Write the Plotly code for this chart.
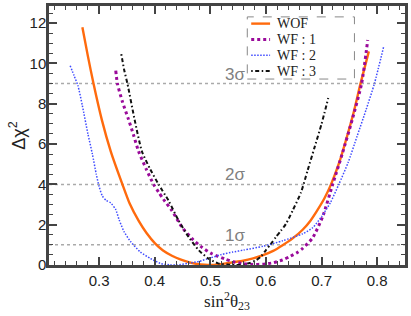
import plotly.graph_objects as go

# ---- data ----
wof_x = [0.270, 0.280, 0.290, 0.305, 0.321, 0.342, 0.355, 0.371, 0.385, 0.401, 0.415, 0.431, 0.446,
         0.461, 0.476, 0.490, 0.500, 0.512, 0.525, 0.540, 0.559, 0.577, 0.595, 0.613, 0.630, 0.648,
         0.666, 0.680, 0.692, 0.705, 0.717, 0.732, 0.745, 0.758, 0.770, 0.785]
wof_y = [11.8, 10.35, 9.0, 7.2, 5.64, 4.0, 3.05, 2.2, 1.6, 1.06, 0.72, 0.46, 0.28,
         0.14, 0.05, 0.01, 0.0, 0.02, 0.07, 0.13, 0.21, 0.33, 0.49, 0.7, 0.98, 1.32,
         1.75, 2.2, 2.7, 3.3, 4.0, 5.1, 6.3, 7.6, 9.0, 10.6]

wf1_x = [0.330, 0.333, 0.342, 0.352, 0.362, 0.371, 0.385, 0.398, 0.407, 0.416, 0.431, 0.449, 0.467,
         0.484, 0.502, 0.526, 0.541, 0.559, 0.577, 0.595, 0.613, 0.630, 0.642, 0.655, 0.666, 0.684,
         0.702, 0.720, 0.737, 0.755, 0.772, 0.783]
wf1_y = [9.64, 9.0, 8.1, 7.3, 6.45, 5.64, 4.75, 4.0, 3.62, 3.25, 2.7, 1.88, 1.31,
         0.9, 0.57, 0.3, 0.16, 0.07, 0.03, 0.04, 0.11, 0.25, 0.41, 0.6, 0.82, 1.35,
         2.4, 4.0, 5.5, 7.2, 9.0, 11.16]

wf2_x = [0.248, 0.255, 0.262, 0.270, 0.280, 0.288, 0.295, 0.300, 0.306, 0.313, 0.321, 0.330, 0.336,
         0.345, 0.357, 0.374, 0.392, 0.410, 0.428, 0.440, 0.460, 0.480, 0.500, 0.520, 0.540, 0.560,
         0.595, 0.630, 0.666, 0.684, 0.700, 0.716, 0.731, 0.748, 0.764, 0.780, 0.795, 0.812]
wf2_y = [9.89, 9.4, 8.9, 7.9, 6.5, 5.5, 4.5, 3.9, 3.42, 3.2, 3.08, 2.75, 2.25,
         1.65, 1.15, 0.65, 0.33, 0.08, 0.01, 0.0, 0.08, 0.18, 0.35, 0.52, 0.64, 0.74,
         0.93, 1.2, 1.55, 1.85, 2.4, 3.1, 4.0, 5.1, 6.4, 7.7, 9.0, 10.87]

wf3_x = [0.340, 0.345, 0.351, 0.364, 0.377, 0.392, 0.407, 0.425, 0.443, 0.461, 0.479, 0.496, 0.514,
         0.530, 0.545, 0.559, 0.571, 0.583, 0.592, 0.600, 0.609, 0.618, 0.627, 0.636, 0.648, 0.663,
         0.675, 0.687, 0.700, 0.712]
wf3_y = [10.46, 9.7, 9.0, 7.2, 5.64, 4.75, 4.0, 3.19, 2.2, 1.39, 0.74, 0.33, 0.08,
         0.02, 0.0, 0.03, 0.1, 0.25, 0.45, 0.74, 1.05, 1.39, 1.7, 2.04, 2.7, 3.6,
         4.7, 5.8, 7.0, 8.28]

series_names = ["WOF", "WF : 1", "WF : 2", "WF : 3"]
sigma_levels = [1, 4, 9]
sigma_labels = ["1σ", "2σ", "3σ"]
x_ticks = [0.3, 0.4, 0.5, 0.6, 0.7, 0.8]
y_ticks = [0, 2, 4, 6, 8, 10, 12]

fig = go.Figure()

styles = [
    dict(color="#FF6A0D", width=2.4, dash="solid"),
    dict(color="#9A0A9A", width=3, dash="dot"),
    dict(color="#3F4BFF", width=1.5, dash="1.5px,1.5px"),
    dict(color="#111111", width=2, dash="1.5px,2.5px,4px,2.5px"),
]
for name, xs, ys, st in zip(series_names, [wof_x, wf1_x, wf2_x, wf3_x],
                            [wof_y, wf1_y, wf2_y, wf3_y], styles):
    fig.add_trace(go.Scatter(x=xs, y=ys, mode="lines", name=name, showlegend=False,
                             line=dict(shape="spline", smoothing=0.6, **st)))

for lvl, lab in zip(sigma_levels, sigma_labels):
    fig.add_shape(type="line", xref="paper", x0=0, x1=1, yref="y", y0=lvl, y1=lvl,
                  line=dict(color="#AAAAAA", width=1.5, dash="dot"), layer="below")
    fig.add_annotation(x=0.545, y=lvl, text=lab, showarrow=False, yanchor="bottom", yshift=-2,
                       font=dict(family="Liberation Sans", size=17, color="#808080"))

# legend (drawn in paper coordinates, inside a dashed frame)
leg_x0, leg_x1, leg_y1, leg_y0 = 0.557, 0.858, 0.958, 0.718
fig.add_shape(type="rect", xref="paper", yref="paper", x0=leg_x0, x1=leg_x1, y0=leg_y0, y1=leg_y1,
              line=dict(color="#888888", width=1, dash="dash"), fillcolor="rgba(0,0,0,0)")
leg_rows = [0.932, 0.871, 0.810, 0.749]
for name, st, yy in zip(series_names, styles, leg_rows):
    fig.add_shape(type="line", xref="paper", yref="paper", x0=0.568, x1=0.621, y0=yy, y1=yy,
                  line=dict(color=st["color"], width=st["width"], dash=st["dash"]))
    fig.add_annotation(xref="paper", yref="paper", x=0.634, y=yy, text=name, showarrow=False,
                       xanchor="left", yanchor="middle",
                       font=dict(family="Liberation Serif", size=14, color="#222222"))

axis_common = dict(showline=True, linecolor="#444444", linewidth=2.5, mirror="ticks",
                   ticks="inside", tickcolor="#444444", tickwidth=1.5, ticklen=8,
                   showgrid=False, zeroline=False,
                   tickfont=dict(family="Liberation Sans", size=15, color="#222222"))

fig.update_xaxes(range=[0.21, 0.85], tickvals=x_ticks, ticktext=[str(v) for v in x_ticks],
                 minor=dict(dtick=0.02, ticks="inside", ticklen=4, tickcolor="#444444", tickwidth=1),
                 title=dict(text="sin<sup>2</sup>θ<sub>23</sub>", standoff=6,
                            font=dict(family="Liberation Serif", size=17, color="#222222")),
                 **axis_common)
fig.update_yaxes(range=[0, 12.85], tickvals=y_ticks,
                 minor=dict(dtick=0.5, ticks="inside", ticklen=4, tickcolor="#444444", tickwidth=1),
                 title=dict(text="Δχ<sup>2</sup>", standoff=0,
                            font=dict(family="Liberation Sans", size=18, color="#222222")),
                 ticklabelstandoff=-3,
                 **axis_common)

fig.update_layout(
    width=411, height=316,
    margin=dict(l=49, r=3, t=3, b=51),
    plot_bgcolor="white", paper_bgcolor="white",
    showlegend=False,
)

fig.write_html("out.html", config={"displayModeBar": False},
               post_script="document.body.style.margin='0';")
